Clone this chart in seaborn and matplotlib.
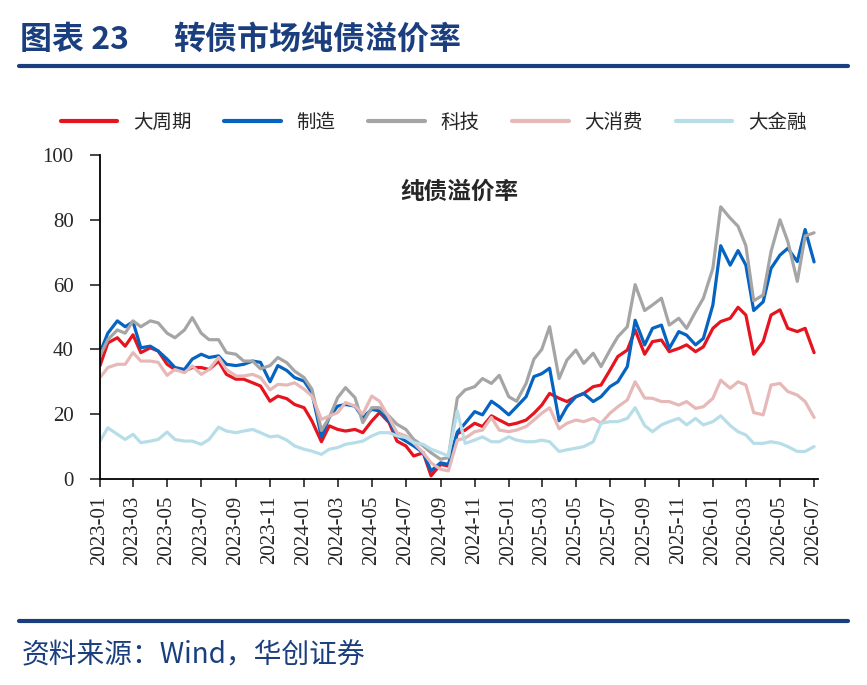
import matplotlib
matplotlib.use("Agg")
import matplotlib.pyplot as plt
import matplotlib.dates as mdates
from matplotlib.lines import Line2D
import seaborn as sns
import pandas as pd

# semi-monthly dates, 2023-01-01 .. 2026-07-01
dates = pd.date_range("2023-01-01", "2026-07-01", freq="SMS")

names = ["大周期", "制造", "科技", "大消费", "大金融"]
colors = ["#E5141F", "#0563C1", "#A5A5A5", "#E6B9B8", "#B7DEE8"]

cycle = [35, 42, 43.6, 41, 44.5, 39, 40.5, 39.5, 35.4, 33.8, 33.3, 34.4,
         34.4, 33.8, 36.4, 32.3, 30.8, 30.8, 29.7, 28.7, 24, 25.6, 24.8, 23,
         22, 17.9, 11.5, 16.4, 15.3, 14.8, 15.3, 14.3, 17.9, 20.5, 17.4, 11.7,
         10.2, 7.1, 8.1, 1, 4.5, 4, 14, 15.1, 17.2, 16.2, 19.5, 18.2,
         16.7, 17.2, 18.2, 20.3, 22.8, 26.4, 24.9, 23.9, 25.4, 26.4, 28.5, 29,
         33.6, 37.8, 39.8, 46, 38.5, 42.4, 42.9, 39.3, 40.3, 41.4, 39.3, 40.8,
         46.5, 48.6, 49.6, 53, 50.6, 38.5, 42.4, 50.6, 52.2, 46.5, 45.5, 46.5,
         39]

manuf = [39, 45, 48.8, 47, 48.5, 40.5, 41, 39.5, 37, 34.4, 33.8, 37,
         38.5, 37.5, 38, 35.4, 35, 35.4, 36.4, 36, 30, 35, 33.5, 31.3,
         30.2, 26.6, 13, 19, 22.5, 23, 22.5, 19, 21.5, 21, 17.9, 13.3,
         11.7, 10.2, 8.1, 2.5, 5, 4.5, 14.5, 17.2, 20.8, 19.8, 24, 22.3,
         19.8, 22.3, 25.4, 31.6, 32.5, 34.2, 18, 22.3, 25.4, 26.4, 23.9, 25.4,
         28.5, 30, 34.7, 49, 41.4, 46.5, 47.5, 40.3, 45.5, 44.4, 41.4, 43.4,
         53.7, 72, 66, 70.5, 66, 52, 54.7, 65, 69.1, 71.2, 67.1, 77,
         67]

tech = [38, 43, 46, 45, 48.8, 47, 48.8, 48.2, 45, 43.6, 46, 49.8,
        45, 43, 43, 39, 38.5, 36.4, 36.4, 34, 35, 37.5, 35.9, 33.3,
        31.3, 27.7, 15, 19, 25.1, 28.2, 25.1, 17.4, 22, 22, 19.4, 16.9,
        15.3, 12.2, 10.2, 8.1, 6.1, 6.6, 25, 27.5, 28.5, 31, 29.5, 32,
        25.4, 24, 29.5, 37, 40, 47, 31, 36.7, 39.8, 35.7, 38.8, 34.7,
        39.8, 43.9, 47, 60, 52, 53.7, 55.8, 47.5, 49.6, 46.5, 51.6, 55.8,
        65, 84, 80.5, 78, 72, 55, 56.8, 70.2, 80, 73.3, 61, 75,
        76]

consumer = [31.3, 34.4, 35.4, 35.4, 39, 36.4, 36.4, 36, 32, 33.8, 32.8, 34.9,
            32.3, 33.8, 37.5, 33.8, 31.8, 31.8, 32.3, 31.3, 27.5, 29.2, 29, 29.7,
            27.7, 25.6, 18.4, 19.4, 20.5, 23.6, 22.5, 20, 25.6, 24, 18.9, 14.3,
            13.3, 11.2, 8.1, 5, 3, 2.5, 12, 12.6, 14.6, 15.1, 19, 15.1,
            14.6, 15.1, 16.2, 18.2, 20.3, 22, 15.5, 17.2, 18.2, 17.7, 18.7, 17.2,
            20.3, 22.3, 24.4, 30, 25, 24.9, 23.9, 23.9, 22.8, 23.9, 21.8, 22.3,
            24.9, 30.5, 28, 30, 29, 20.5, 19.8, 29, 29.5, 27, 25.9, 23.9,
            19]

finance = [11.7, 15.8, 13.8, 12.2, 13.8, 11.2, 11.7, 12.2, 14.5, 12.2, 11.7, 11.7,
           10.7, 12.2, 16, 14.8, 14.3, 14.8, 15.3, 14.3, 13, 13.3, 12, 10.2,
           9.2, 8.6, 7.6, 9.2, 9.7, 10.7, 11.2, 11.7, 13.3, 14.3, 14.3, 13.3,
           12.8, 11.2, 10.7, 9.2, 8.1, 7.1, 21, 11, 12, 13, 11.5, 11.5,
           13, 12, 11.5, 11.5, 12, 11.5, 8.5, 9, 9.5, 10, 11.5, 17.2,
           17.7, 17.7, 18.7, 22, 16.5, 14.6, 16.7, 17.7, 18.7, 16.7, 18.7, 16.7,
           17.7, 19.5, 16.5, 14.6, 13.6, 11, 11, 11.5, 11, 10, 8.5, 8.5,
           10]

df = pd.DataFrame({"date": dates, "大周期": cycle, "制造": manuf, "科技": tech,
                   "大消费": consumer, "大金融": finance})
long = df.melt(id_vars="date", var_name="板块", value_name="溢价率")

sns.set_style("ticks")
plt.rcParams["font.family"] = ["Liberation Serif", "Noto Sans CJK SC", "DejaVu Sans"]
cjk = ["Noto Sans CJK SC", "DejaVu Sans"]
navy = "#1B3F7E"

fig = plt.figure(figsize=(8.67, 6.85), dpi=100)
ax = fig.add_axes([100 / 867, 1 - 479 / 685, 718 / 867, 324 / 685])

sns.lineplot(data=long, x="date", y="溢价率", hue="板块", hue_order=names,
             palette=colors, linewidth=2.3, legend=False, ax=ax)

ax.set_ylim(0, 100)
ax.set_yticks([0, 20, 40, 60, 80, 100])
ax.set_xlim(pd.Timestamp("2023-01-01"), pd.Timestamp("2026-07-08"))
ax.xaxis.set_major_locator(mdates.MonthLocator(bymonth=[1, 3, 5, 7, 9, 11]))
ax.xaxis.set_major_formatter(mdates.DateFormatter("%Y-%m"))
ax.tick_params(axis="x", labelrotation=90, labelsize=15, length=6, width=1.2, pad=6)
ax.tick_params(axis="y", labelsize=15, length=7, width=1.2, pad=12)
ax.set_xlabel("")
ax.set_ylabel("")
for s in ["top", "right"]:
    ax.spines[s].set_visible(False)
for s in ["left", "bottom"]:
    ax.spines[s].set_linewidth(1.3)
    ax.spines[s].set_color("black")

ax.text(0.5, 0.886, "纯债溢价率", transform=ax.transAxes, ha="center", va="center",
        fontsize=17, fontweight="bold", family=cjk)

handles = [Line2D([], [], color=c, lw=3) for c in colors]
fig.legend(handles, names, loc="center", bbox_to_anchor=(0.50, 1 - 122 / 685), ncol=5,
           frameon=False, prop={"family": cjk, "size": 14}, handlelength=2.9,
           handletextpad=0.8, columnspacing=1.7)

fig.text(20 / 867, 1 - 40 / 685, "图表 23", fontsize=23,
         fontweight="bold", color=navy, va="center", family=cjk)
fig.text(173 / 867, 1 - 40 / 685, "转债市场纯债溢价率", fontsize=23,
         fontweight="bold", color=navy, va="center", family=cjk)
fig.add_artist(Line2D([19 / 867, 848 / 867], [1 - 66 / 685] * 2, lw=3, color=navy))
fig.add_artist(Line2D([19 / 867, 848 / 867], [1 - 621 / 685] * 2, lw=3, color=navy))
fig.text(22 / 867, 1 - 655 / 685, "资料来源：Wind，华创证券", fontsize=20,
         color=navy, style="italic", va="center", family=cjk)

fig.savefig("out.png", dpi=100)
